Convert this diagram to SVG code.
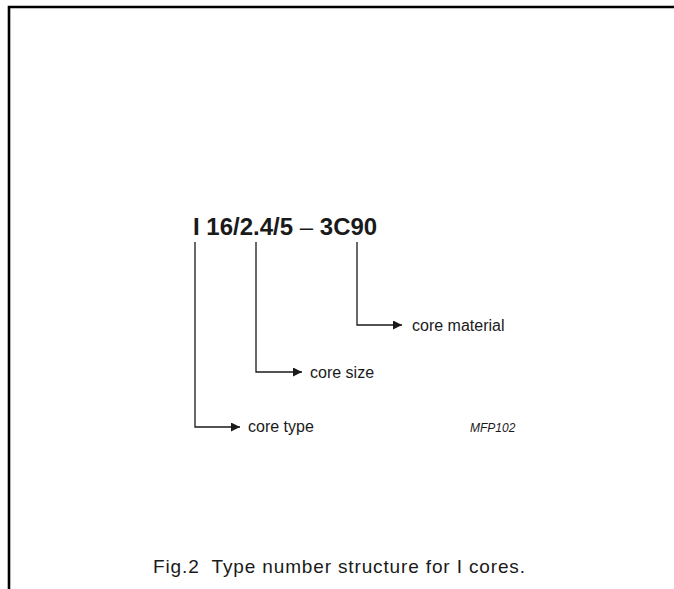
<svg xmlns="http://www.w3.org/2000/svg" width="674" height="589" viewBox="0 0 674 589">
<style>
.t{font-family:"Liberation Sans",Arial,sans-serif;fill:#1a1a1a}
.lbl{font-size:16px}
.ln{fill:none;stroke:#1a1a1a;stroke-width:1.3}
</style>
<defs>
<marker id="ah" markerWidth="9" markerHeight="9" refX="9" refY="4.5" orient="auto" markerUnits="userSpaceOnUse">
<path d="M0,0 L9,4.5 L0,9 Z" fill="#1a1a1a"/>
</marker>
</defs>
<rect width="674" height="589" fill="#fff"/>
<g id="frame">
<path d="M9,589 V7 H674" fill="none" stroke="#000" stroke-width="2.6"/>
</g>
<g id="title">
<text class="t" x="193" y="235" font-size="24" font-weight="bold">I 16/2.4/5 <tspan font-weight="normal">–</tspan> 3C90</text>
</g>
<g id="connectors">
<path class="ln" d="M195,242 V427 H240" marker-end="url(#ah)"/>
<path class="ln" d="M256,242 V372 H302" marker-end="url(#ah)"/>
<path class="ln" d="M357,242 V325 H402" marker-end="url(#ah)"/>
</g>
<g id="core-material"><text class="t lbl" x="412" y="331">core material</text></g>
<g id="core-size"><text class="t lbl" x="310" y="378">core size</text></g>
<g id="core-type"><text class="t lbl" x="248" y="432">core type</text></g>
<g id="code"><text class="t" x="470" y="432" font-size="12" font-style="italic">MFP102</text></g>
<g id="caption"><text class="t" x="153" y="573" font-size="19" xml:space="preserve" textLength="372" lengthAdjust="spacing">Fig.2  Type number structure for I cores.</text></g>
</svg>
